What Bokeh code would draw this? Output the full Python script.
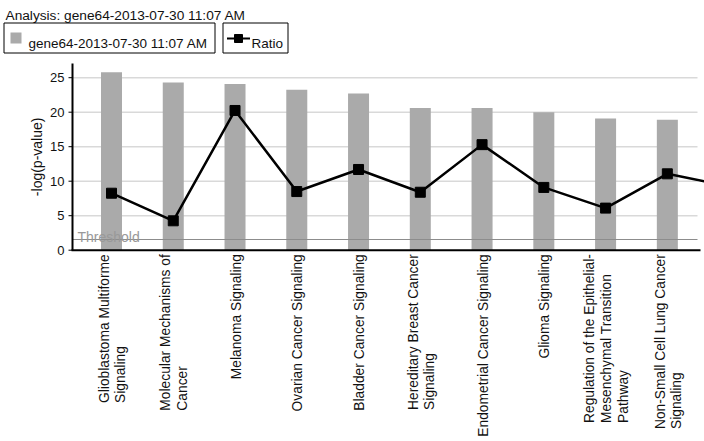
import math
from bokeh.plotting import figure
from bokeh.models import Range1d
from bokeh.core.properties import value
from bokeh.embed import file_html
from bokeh.resources import INLINE

# ---------------- data ----------------
title_text = "Analysis: gene64-2013-07-30 11:07 AM"
series_name = "gene64-2013-07-30 11:07 AM"
ratio_name = "Ratio"
y_axis_title = "-log(p-value)"
threshold_label = "Threshold"
categories = [
    "Glioblastoma Multiforme\nSignaling",
    "Molecular Mechanisms of\nCancer",
    "Melanoma Signaling",
    "Ovarian Cancer Signaling",
    "Bladder Cancer Signaling",
    "Hereditary Breast Cancer\nSignaling",
    "Endometrial Cancer Signaling",
    "Glioma Signaling",
    "Regulation of the Epithelial-\nMesenchymal Transition\nPathway",
    "Non-Small Cell Lung Cancer\nSignaling",
]
neg_log_p = [25.8, 24.3, 24.1, 23.25, 22.7, 20.6, 20.6, 20.0, 19.1, 18.9]
# ratio series (drawn on the visible scale); its last point lies beyond the right edge
ratio = [8.26, 4.26, 20.25, 8.5, 11.7, 8.4, 15.3, 9.1, 6.1, 11.07, 9.25]
threshold = 1.55
y_ticks = [0, 5, 10, 15, 20, 25]
y_axis_max = 27.06

# ---------------- layout constants (canvas pixels) ----------------
W, H = 704, 440
PX = 61.76      # pixels per category step
PY = 6.9        # pixels per y unit
XC0 = 111.0     # canvas x of first category
YB0 = 249.7     # canvas y of value 0
AXIS_X = 72.0   # canvas x of y axis
GRID_END_PX = 697.0
FONT = value("Liberation Sans")
TXT = "#111111"


def dx(px):
    return (px - XC0) / PX


def dy(py):
    return (YB0 - py) / PY


# Arial / Liberation Sans advance widths (per 1000 em)
ARIAL = {
    " ": 278, "-": 333, ":": 278, ".": 278, "(": 333, ")": 333,
    "A": 667, "B": 667, "C": 722, "D": 722, "E": 667, "F": 611, "G": 778, "H": 722,
    "I": 278, "J": 500, "K": 667, "L": 556, "M": 833, "N": 722, "O": 778, "P": 667,
    "Q": 778, "R": 722, "S": 667, "T": 611, "U": 722, "V": 667, "W": 944, "X": 667,
    "Y": 667, "Z": 611,
    "a": 556, "b": 556, "c": 500, "d": 556, "e": 556, "f": 278, "g": 556, "h": 556,
    "i": 222, "j": 222, "k": 500, "l": 222, "m": 833, "n": 556, "o": 556, "p": 556,
    "q": 556, "r": 333, "s": 500, "t": 278, "u": 556, "v": 500, "w": 722, "x": 500,
    "y": 500, "z": 500,
}


def text_w(s, fs):
    return sum(ARIAL.get(c, 556) for c in s) / 1000.0 * fs


p = figure(
    width=W, height=H, output_backend="svg", toolbar_location=None, title=None,
    x_range=Range1d(dx(0), dx(W)), y_range=Range1d(dy(H), dy(0)),
    x_axis_type=None, y_axis_type=None,
    min_border=0, min_border_left=0, min_border_right=0,
    min_border_top=0, min_border_bottom=0,
)
p.outline_line_color = None
p.background_fill_color = "white"
p.border_fill_color = "white"
p.grid.visible = False

x_left = dx(AXIS_X)
x_grid_end = dx(GRID_END_PX)

# gridlines
grid_vals = [t for t in y_ticks if t > 0]
p.segment(x0=[x_left] * len(grid_vals), x1=[x_grid_end] * len(grid_vals),
          y0=grid_vals, y1=grid_vals, line_color="#d9d9d9", line_width=1.5)

# bars
xs = list(range(len(categories)))
p.vbar(x=xs, top=neg_log_p, bottom=0, width=21.0 / PX,
       fill_color="#aaaaaa", line_color=None)

# threshold line and label
p.segment(x0=[x_left], x1=[x_grid_end], y0=[threshold], y1=[threshold],
          line_color="#8c8c8c", line_width=1)
p.text(x=[dx(AXIS_X + 5)], y=[threshold + 3.0 / PY], text=[threshold_label],
       text_font=FONT, text_font_size=value("14px"), text_color="#999999",
       text_align="left", text_baseline="alphabetic")

# axes (drawn on the data scales)
p.segment(x0=[x_left], x1=[x_left], y0=[0], y1=[y_axis_max],
          line_color="black", line_width=2)
p.segment(x0=[dx(AXIS_X - 1)], x1=[dx(700)], y0=[0], y1=[0],
          line_color="black", line_width=2)
p.segment(x0=[dx(AXIS_X - 4)] * len(y_ticks), x1=[x_left] * len(y_ticks),
          y0=y_ticks, y1=y_ticks, line_color="black", line_width=1)
p.text(x=[dx(AXIS_X - 8)] * len(y_ticks), y=y_ticks, text=[str(t) for t in y_ticks],
       text_font=FONT, text_font_size=value("13px"), text_color=TXT,
       text_align="right", text_baseline="middle")
p.text(x=[dx(36)], y=[y_axis_max / 2.0], text=[y_axis_title], angle=math.pi / 2,
       text_font=FONT, text_font_size=value("14px"), text_color=TXT,
       text_align="center", text_baseline="middle")

# ratio line
rx = list(range(len(ratio)))
p.line(x=rx, y=ratio, line_color="black", line_width=2.5)
p.scatter(x=rx, y=ratio, marker="square", size=10, fill_color="black", line_color="black")

# category labels (rotated; lines start-aligned at the bottom)
CAT_FS = 13.8
LH = 16.6
lab_x, lab_y, lab_t = [], [], []
for i, cat in enumerate(categories):
    lines = cat.split("\n")
    n = len(lines)
    maxw = max(text_w(l, CAT_FS) for l in lines)
    start_py = YB0 + 4 + maxw
    for k, line in enumerate(lines):
        lab_x.append(i + ((k - (n - 1) / 2.0) * LH + 1) / PX)
        lab_y.append(dy(start_py))
        lab_t.append(line)
p.text(x=lab_x, y=lab_y, text=lab_t, angle=math.pi / 2,
       text_font=FONT, text_font_size=value(f"{CAT_FS}px"), text_color=TXT,
       text_align="left", text_baseline="middle")

# title
p.text(x=[dx(5)], y=[dy(15)], text=[title_text],
       text_font=FONT, text_font_size=value("13.7px"), text_color=TXT,
       text_align="left", text_baseline="alphabetic")

# legend boxes
box_l = [3.5, 222.5]
box_r = [214.5, 287.5]
box_t, box_b = 22.5, 52.5
p.quad(left=[dx(v) for v in box_l], right=[dx(v) for v in box_r],
       top=[dy(box_t)] * 2, bottom=[dy(box_b)] * 2,
       fill_color="white", line_color="black", line_width=1)
# series swatch
p.quad(left=[dx(10)], right=[dx(21)], top=[dy(32)], bottom=[dy(43)],
       fill_color="#aaaaaa", line_color=None)
# ratio swatch
p.segment(x0=[dx(226.5)], x1=[dx(249.5)], y0=[dy(38)], y1=[dy(38)],
          line_color="black", line_width=2)
p.scatter(x=[dx(238)], y=[dy(38)], marker="square", size=8,
          fill_color="black", line_color="black")
p.text(x=[dx(28), dx(251)], y=[dy(43), dy(43)], text=[series_name, ratio_name],
       text_font=FONT, text_font_size=value("13.5px"), text_color=TXT,
       text_align="left", text_baseline="alphabetic")

open("out.html", "w").write(file_html(p, INLINE))
